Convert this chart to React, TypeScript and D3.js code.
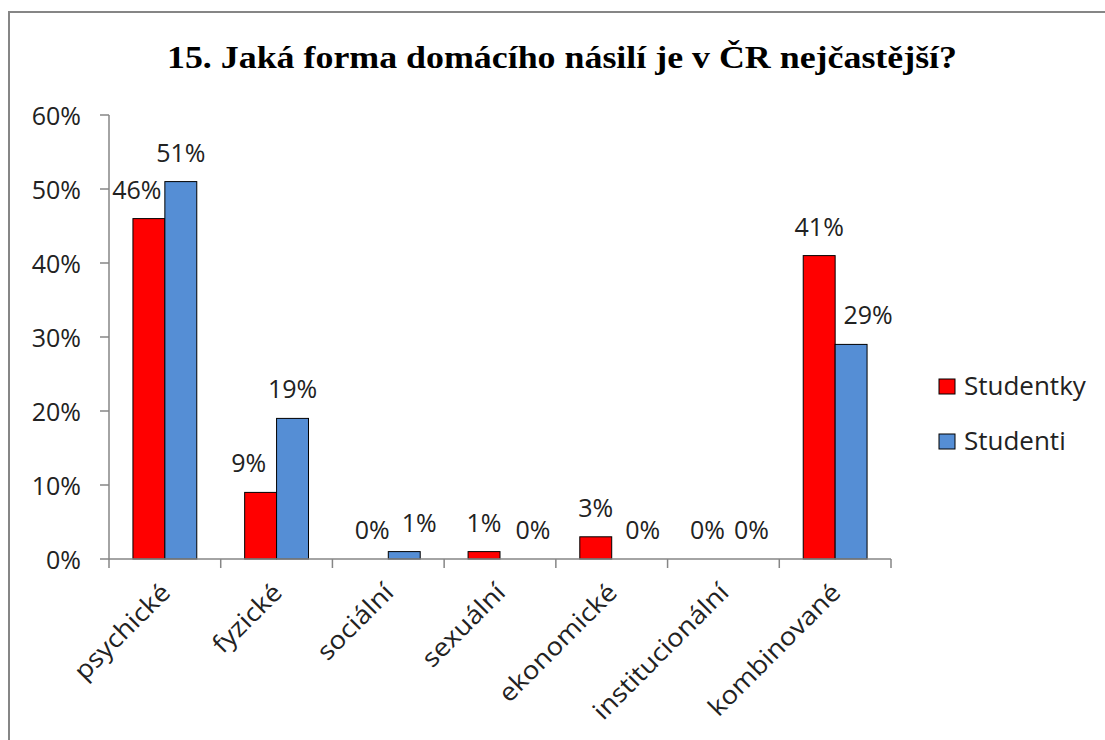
import React from "react";
import { scaleLinear, scaleBand, format } from "d3";

const categories = [
  "psychické",
  "fyzické",
  "sociální",
  "sexuální",
  "ekonomické",
  "institucionální",
  "kombinované",
];
const seriesNames = ["Studentky", "Studenti"];
const studentky = [0.46, 0.09, 0, 0.01, 0.03, 0, 0.41];
const studenti = [0.51, 0.19, 0.01, 0, 0, 0, 0.29];
const yTicks = [0, 0.1, 0.2, 0.3, 0.4, 0.5, 0.6];

const colors = ["#FF0000", "#558ED5"];
// label nudges so neighbouring labels don't collide (like excel does)
const labelDx = [
  [-12, -12, 0, 0, 0, 0, 0],
  [0, 0, 15, 17, 15, 12, 17],
];

const W = 1105;
const H = 740;
const fontSans = "'Open Sans', sans-serif";

const App = () => {
  const left = 109;
  const right = 891;
  const top = 115;
  const bottom = 559;

  const x0 = scaleBand().domain(categories).range([left, right]);
  const x1 = scaleBand()
    .domain(seriesNames)
    .range([0, x0.bandwidth()])
    .paddingInner(0)
    .paddingOuter(0.75);
  const y = scaleLinear().domain([0, 0.6]).range([bottom, top]);
  const pct = format(".0%");

  const series = [studentky, studenti];

  const bars = series.map((vals, si) =>
    vals.map((v, i) => {
      if (v === 0) return null;
      const bx = x0(categories[i]) + x1(seriesNames[si]);
      return (
        <rect
          key={`b${si}-${i}`}
          x={bx}
          y={y(v)}
          width={x1.bandwidth()}
          height={bottom - y(v)}
          fill={colors[si]}
          stroke="#000"
          strokeWidth={1}
        />
      );
    })
  );

  const labels = series.map((vals, si) =>
    vals.map((v, i) => {
      const cx =
        x0(categories[i]) + x1(seriesNames[si]) + x1.bandwidth() / 2 + labelDx[si][i];
      return (
        <text
          key={`l${si}-${i}`}
          x={cx}
          y={y(v) - 20}
          textAnchor="middle"
          fontSize={25}
          fill="#222"
        >
          {pct(v)}
        </text>
      );
    })
  );

  return (
    <svg
      width={W}
      height={H}
      viewBox={`0 0 ${W} ${H}`}
      style={{ position: "absolute", left: 0, top: 0, background: "#fff" }}
      fontFamily={fontSans}
    >
      <rect x={0} y={0} width={W} height={H} fill="#fff" />
      {/* frame */}
      <path d={`M9,${H} V12 H${W}`} fill="none" stroke="#868686" strokeWidth={2} />

      <text
        x={562}
        y={68}
        textAnchor="middle"
        fontFamily="'Liberation Serif', serif"
        fontWeight="bold"
        fontSize={32}
        textLength={790}
        lengthAdjust="spacingAndGlyphs"
        fill="#000"
      >
        15. Jaká forma domácího násilí je v ČR nejčastější?
      </text>

      {/* y axis */}
      <line x1={left} x2={left} y1={top} y2={bottom} stroke="#868686" strokeWidth={1.5} />
      {yTicks.map((t) => (
        <g key={t}>
          <line x1={left - 9} x2={left} y1={y(t)} y2={y(t)} stroke="#868686" strokeWidth={1.5} />
          <text x={81} y={y(t) + 10} textAnchor="end" fontSize={25} fill="#222">
            {pct(t)}
          </text>
        </g>
      ))}

      {bars}

      {/* x axis */}
      <line x1={left} x2={right} y1={bottom} y2={bottom} stroke="#868686" strokeWidth={1.5} />
      {categories.concat([""]).map((c, i) => {
        const tx = left + i * x0.step();
        return (
          <line key={`t${i}`} x1={tx} x2={tx} y1={bottom} y2={bottom + 9} stroke="#868686" strokeWidth={1.5} />
        );
      })}
      {categories.map((c) => {
        const cx = x0(c) + x0.bandwidth() / 2 + 7;
        const cy = 594;
        return (
          <text
            key={c}
            transform={`translate(${cx},${cy}) rotate(-45) scale(1.1,1)`}
            textAnchor="end"
            fontSize={25}
            fill="#222"
          >
            {c}
          </text>
        );
      })}

      {labels}

      {/* legend */}
      {seriesNames.map((s, si) => (
        <g key={s} transform={`translate(939, ${379 + si * 55})`}>
          <rect x={0} y={0} width={16} height={15} fill={colors[si]} stroke="#000" strokeWidth={1} />
          <text x={24} y={16} fontSize={25} fill="#222" transform="scale(1.04,1)">
            {s}
          </text>
        </g>
      ))}
    </svg>
  );
};

export default App;
